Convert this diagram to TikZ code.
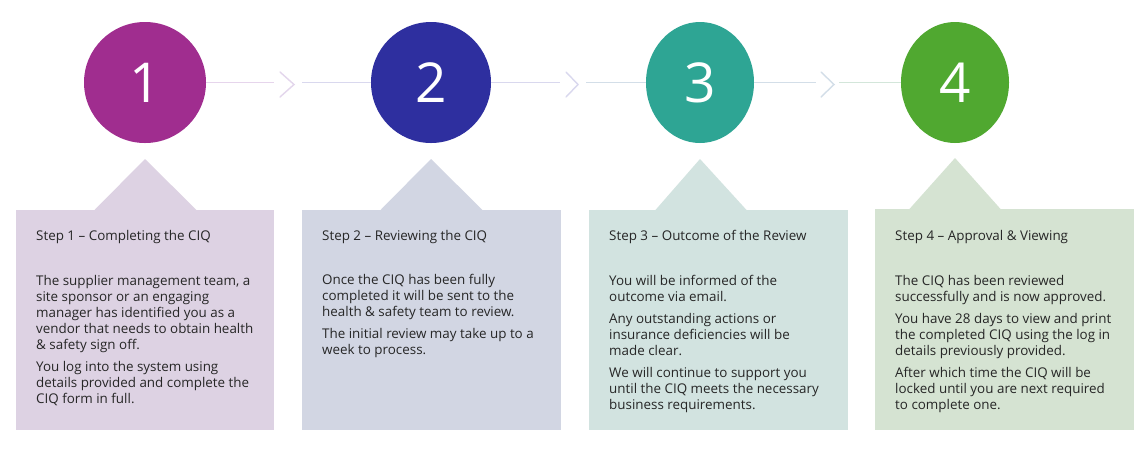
\documentclass[tikz,border=0pt]{standalone}
\usepackage{fontspec}
\setmainfont{Open Sans}
\usetikzlibrary{shapes.geometric}
\definecolor{cA}{HTML}{A02D8F}
\definecolor{cB}{HTML}{2E2F9F}
\definecolor{cC}{HTML}{2EA594}
\definecolor{cD}{HTML}{50A830}
\definecolor{bA}{HTML}{DDD2E3}
\definecolor{bB}{HTML}{D2D6E3}
\definecolor{bC}{HTML}{D2E3E0}
\definecolor{bD}{HTML}{D5E3D2}
\definecolor{txt}{HTML}{262626}
\definecolor{lA}{HTML}{E6D5EC}
\definecolor{lB}{HTML}{D9D8EE}
\definecolor{lC}{HTML}{D3DEE8}
\definecolor{lD}{HTML}{D3E6DA}
\tikzset{
  num/.style={ellipse, inner sep=0pt, text=white, font=\fontsize{55}{55}\selectfont},
  box/.style={rectangle, inner sep=0pt, minimum width=258pt, minimum height=220pt, anchor=north west},
  ttl/.style={anchor=base west, inner sep=0pt, text=txt, font=\fontsize{13.4}{15}\selectfont},
  body/.style={anchor=north west, inner sep=0pt, text=txt, align=left, font=\fontsize{13.4}{16}\selectfont},
  conn/.style={line width=1.6pt},
  chev/.style={line width=1.4pt, line cap=round, line join=miter}
}
\begin{document}
\begin{tikzpicture}[x=1pt,y=-1pt]
\useasboundingbox[fill=white] (0,0) rectangle (1148,451);
% circles
\node[num, fill=cA, minimum width=122pt, minimum height=121pt] (c1) at (145,82.5) {1};
\node[num, fill=cB, minimum width=120pt, minimum height=121pt] (c2) at (431,82.5) {2};
\node[num, fill=cC, minimum width=108pt, minimum height=121pt] (c3) at (700,82.5) {3};
\node[num, fill=cD, minimum width=108pt, minimum height=121pt] (c4) at (955,82.5) {4};
% connector coordinates
\coordinate (a1) at (274,82.5); \coordinate (b1) at (302,82.5);
\coordinate (a2) at (560,82.5); \coordinate (b2) at (586,82.5);
\coordinate (a3) at (816,82.5); \coordinate (b3) at (839,82.5);
\draw[conn, lA] (c1.east) -- (a1);
\draw[chev, lA!80!lB] (280,72) -- (294,84.5) -- (280,97);
\draw[conn, lB] (b1) -- (c2.west);
\draw[conn, lB] (c2.east) -- (a2);
\draw[chev, lB] (566,72) -- (578,84.5) -- (566,97);
\draw[conn, lC] (b2) -- (c3.west);
\draw[conn, lC] (c3.east) -- (a3);
\draw[chev, lC] (821,72) -- (834,84.5) -- (821,97);
\draw[conn, lD] (b3) -- (c4.west);
% boxes
\node[box, fill=bA] (k1) at (16,210) {};
\fill[bA] (94,210.5) -- (145,159) -- (197,210.5) -- cycle;
\node[box, fill=bB, minimum width=259pt] (k2) at (302,210) {};
\fill[bB] (380,210.5) -- (431,159) -- (483,210.5) -- cycle;
\node[box, fill=bC, minimum width=259pt] (k3) at (589,210) {};
\fill[bC] (655,210.5) -- (700,159) -- (747,210.5) -- cycle;
\node[box, fill=bD, minimum width=259pt, minimum height=221pt] (k4) at (875,209) {};
\fill[bD] (909,209.5) -- (955,158) -- (1001,209.5) -- cycle;
% texts
\node[ttl] (t1) at (36,240) {Step 1 – Completing the CIQ};
\node[body] (p1) at (36,275) {The supplier management team, a\\site sponsor or an engaging\\manager has identified you as a\\vendor that needs to obtain health\\\& safety sign off.\\[6pt]You log into the system using\\details provided and complete the\\CIQ form in full.};
\node[ttl] (t2) at (322,240) {Step 2 – Reviewing the CIQ};
\node[body] (p2) at (322,274.5) {Once the CIQ has been fully\\completed it will be sent to the\\health \& safety team to review.\\[6pt]The initial review may take up to a\\week to process.};
\node[ttl] (t3) at (609,240) {Step 3 – Outcome of the Review};
\node[body] (p3) at (609,275) {You will be informed of the\\outcome via email.\\[6pt]Any outstanding actions or\\insurance deficiencies will be\\made clear.\\[6pt]We will continue to support you\\until the CIQ meets the necessary\\business requirements.};
\node[ttl] (t4) at (895,240) {Step 4 – Approval \& Viewing};
\node[body] (p4) at (895,275) {The CIQ has been reviewed\\successfully and is now approved.\\[6pt]You have 28 days to view and print\\the completed CIQ using the log in\\details previously provided.\\[6pt]After which time the CIQ will be\\locked until you are next required\\to complete one.};
\end{tikzpicture}
\end{document}
